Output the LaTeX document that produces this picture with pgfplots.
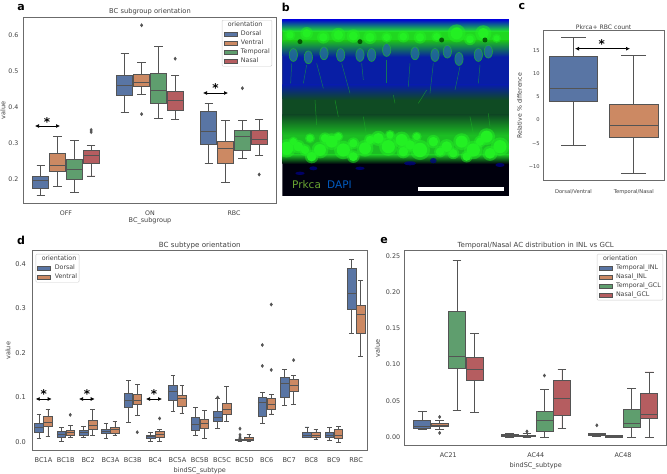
\documentclass[border=0pt]{standalone}
\usepackage{fontspec}
\setmainfont{DejaVu Sans}
\usepackage{pgfplots}
\pgfplotsset{compat=1.18}
\usepgfplotslibrary{statistics}
\usetikzlibrary{arrows.meta}
\definecolor{cD}{HTML}{5975A4}
\definecolor{cV}{HTML}{CC8963}
\definecolor{cT}{HTML}{5F9E6E}
\definecolor{cN}{HTML}{B55D60}
\definecolor{boxline}{gray}{0.33}
\definecolor{framec}{gray}{0.42}
\definecolor{txt}{gray}{0.25}
\definecolor{gbright}{RGB}{35,240,35}
\definecolor{gmid}{RGB}{28,190,35}
\definecolor{gdark}{RGB}{15,75,35}
\definecolor{bdeep}{RGB}{8,30,165}
\definecolor{soma}{RGB}{35,110,150}

% pos, colour, lower whisker, q1, median, q3, upper whisker, outliers
\newcommand{\bx}[8]{\addplot[forget plot,sharp corners,fill=#2,draw=boxline,line width=0.75pt,
  mark=diamond*,mark size=1.4pt,mark options={fill=boxline,draw=boxline,solid},
  boxplot prepared={draw position=#1,lower whisker=#3,lower quartile=#4,median=#5,
  upper quartile=#6,upper whisker=#7}] coordinates {#8};}

\pgfplotsset{panel/.style={
    scale only axis,
    axis line style={draw=framec,line width=1pt},
    major tick length=0pt,
    tick style={draw=none},
    tick label style={font=\fontsize{6.3}{7}\selectfont,text=txt},
    xticklabel style={yshift=-3pt},
    label style={font=\fontsize{6.5}{7.5}\selectfont,text=txt},
    title style={font=\fontsize{6.7}{7.5}\selectfont,text=txt,yshift=-7.5pt},
    /pgf/number format/assume math mode=true,
    boxplot/draw direction=y,
    legend cell align=left,
    legend style={font=\fontsize{6.3}{7}\selectfont,text=txt,draw=black!20,rounded corners=1pt,
      inner sep=1.5pt,row sep=2pt,fill=white,
      /tikz/every odd column/.append style={column sep=3.5pt},
      nodes={inner sep=0.5pt,text height=4.7pt,text depth=1.3pt}},
    legend image code/.code={\draw[sharp corners,##1] (0pt,-2.3pt) rectangle (13pt,2.3pt);},
  },
  fixedy/.style 2 args={yticklabel style={xshift=-#2,/pgf/number format/fixed,/pgf/number format/fixed zerofill,/pgf/number format/precision=#1}},
}

\begin{document}
\begin{tikzpicture}[x=1pt,y=1pt]
\path[use as bounding box] (0,0) rectangle (667,474);

% ---------- panel a
\begin{axis}[panel,fixedy={1}{2pt},at={(24pt,270pt)},anchor=south west,width=252pt,height=187pt,
  xmin=-0.5,xmax=2.5,ymin=0.131,ymax=0.651,
  xtick={0,1,2},xticklabels={OFF,ON,RBC},ytick={0.2,0.3,0.4,0.5,0.6},
  title={BC subgroup orientation},xlabel={BC\_subgroup},ylabel={value},
  xlabel style={yshift=5pt},ylabel style={yshift=-4pt},
  boxplot={box extend=0.19,whisker extend=0.1},
  legend style={at={(1,1)},xshift=-4pt,yshift=-3pt,anchor=north east}]
\addlegendimage{empty legend}\addlegendentry{\hspace*{-13pt}orientation}
\addlegendimage{fill=cD,draw=boxline}\addlegendentry{Dorsal}
\addlegendimage{fill=cV,draw=boxline}\addlegendentry{Ventral}
\addlegendimage{fill=cT,draw=boxline}\addlegendentry{Temporal}
\addlegendimage{fill=cN,draw=boxline}\addlegendentry{Nasal}
\bx{-0.3}{cD}{.156}{.174}{.197}{.208}{.239}{}
\bx{-0.1}{cV}{.181}{.222}{.239}{.271}{.319}{}
\bx{0.1}{cT}{.164}{.200}{.228}{.256}{.307}{}
\bx{0.3}{cN}{.209}{.244}{.265}{.280}{.294}{(0,.337)(0,.331)}
\bx{0.7}{cD}{.385}{.432}{.460}{.490}{.550}{}
\bx{0.9}{cV}{.436}{.458}{.469}{.491}{.525}{(0,.628)(0,.381)}
\bx{1.1}{cT}{.369}{.411}{.447}{.495}{.569}{}
\bx{1.3}{cN}{.367}{.392}{.420}{.444}{.489}{(0,.535)}
\bx{1.7}{cD}{.244}{.297}{.333}{.389}{.410}{}
\bx{1.9}{cV}{.191}{.244}{.286}{.306}{.363}{}
\bx{2.1}{cT}{.258}{.281}{.320}{.335}{.363}{(0,.453)}
\bx{2.3}{cN}{.267}{.296}{.310}{.335}{.367}{(0,.213)}
\end{axis}

% ---------- panel c
\begin{axis}[panel,at={(543.3pt,293.3pt)},anchor=south west,width=120.7pt,height=149.7pt,
  xmin=-0.5,xmax=1.5,ymin=-13.11,ymax=19.26,
  xtick={0,1},xticklabels={Dorsal/Ventral,Temporal/Nasal},
  ytick={-10,-5,0,5,10,15},yticklabels={−10,−5,0,5,10,15},
  tick label style={font=\fontsize{5.2}{6}\selectfont},
  xticklabel style={yshift=-2pt},
  label style={font=\fontsize{6.2}{7}\selectfont},
  title={Pkrca+ RBC count},ylabel={Relative \% difference},
  title style={font=\fontsize{6.1}{6.5}\selectfont,yshift=-1pt},
  ylabel style={yshift=0pt},
  boxplot={box extend=0.8,whisker extend=0.41}]
\bx{0}{cD}{-5.5}{4.1}{6.9}{13.8}{17.8}{}
\bx{1}{cV}{-11.6}{-3.7}{-1.2}{3.3}{13.9}{}
\end{axis}

% ---------- panel d
\begin{axis}[panel,fixedy={1}{3pt},at={(32.3pt,23pt)},anchor=south west,width=335pt,height=200.3pt,
  xmin=-0.5,xmax=14.5,ymin=-0.0202,ymax=0.4299,
  xtick={0,...,14},xticklabels={BC1A,BC1B,BC2,BC3A,BC3B,BC4,BC5A,BC5B,BC5C,BC5D,BC6,BC7,BC8,BC9,RBC},
  ytick={0,0.1,0.2,0.3,0.4},
  tick label style={font=\fontsize{6.6}{7}\selectfont},
  title style={font=\fontsize{7.1}{8}\selectfont},
  title={BC subtype orientation},xlabel={bindSC\_subtype},ylabel={value},
  xlabel style={yshift=2pt},ylabel style={yshift=-2pt},
  boxplot={box extend=0.39,whisker extend=0.2},
  legend style={at={(0,1)},xshift=3.4pt,yshift=-3.3pt,anchor=north west}]
\addlegendimage{empty legend}\addlegendentry{\hspace*{-13pt}orientation}
\addlegendimage{fill=cD,draw=boxline}\addlegendentry{Dorsal}
\addlegendimage{fill=cV,draw=boxline}\addlegendentry{Ventral}
\bx{-0.2}{cD}{.008}{.022}{.034}{.041}{.062}{}
\bx{0.2}{cV}{.012}{.036}{.044}{.058}{.073}{}
\bx{0.8}{cD}{.001}{.011}{.017}{.023}{.032}{}
\bx{1.2}{cV}{.011}{.016}{.022}{.027}{.038}{(0,.061)}
\bx{1.8}{cD}{.010}{.016}{.022}{.027}{.035}{}
\bx{2.2}{cV}{.014}{.028}{.038}{.048}{.073}{}
\bx{2.8}{cD}{.008}{.019}{.025}{.029}{.042}{}
\bx{3.2}{cV}{.015}{.019}{.028}{.034}{.046}{}
\bx{3.8}{cD}{.043}{.078}{.094}{.109}{.139}{}
\bx{4.2}{cV}{.059}{.085}{.094}{.108}{.130}{(0,.022)}
\bx{4.8}{cD}{.001}{.008}{.012}{.016}{.022}{}
\bx{5.2}{cV}{.001}{.010}{.017}{.023}{.028}{(0,.053)}
\bx{5.8}{cD}{.069}{.093}{.113}{.127}{.150}{}
\bx{6.2}{cV}{.064}{.080}{.099}{.104}{.127}{}
\bx{6.8}{cD}{.015}{.026}{.040}{.055}{.077}{}
\bx{7.2}{cV}{.008}{.031}{.041}{.050}{.071}{}
\bx{7.8}{cD}{.031}{.047}{.055}{.069}{.097}{(0,.100)}
\bx{8.2}{cV}{.046}{.061}{.073}{.087}{.124}{}
\bx{8.8}{cD}{.002}{.003}{.004}{.006}{.007}{(0,.030)(0,.016)(0,.011)(0,.008)}
\bx{9.2}{cV}{.001}{.003}{.007}{.011}{.018}{}
\bx{9.8}{cD}{.042}{.057}{.088}{.100}{.111}{(0,.218)(0,.171)}
\bx{10.2}{cV}{.063}{.074}{.085}{.098}{.107}{(0,.309)(0,.162)}
\bx{10.8}{cD}{.082}{.100}{.132}{.146}{.164}{}
\bx{11.2}{cV}{.085}{.114}{.128}{.140}{.149}{(0,.184)}
\bx{11.8}{cD}{.010}{.011}{.016}{.021}{.034}{}
\bx{12.2}{cV}{.006}{.011}{.016}{.022}{.028}{}
\bx{12.8}{cD}{.004}{.011}{.014}{.021}{.032}{}
\bx{13.2}{cV}{.000}{.008}{.015}{.028}{.035}{}
\bx{13.8}{cD}{.244}{.297}{.333}{.390}{.410}{}
\bx{14.2}{cV}{.193}{.244}{.287}{.307}{.363}{}
\end{axis}

% ---------- panel e
\begin{axis}[panel,fixedy={2}{1pt},at={(404.7pt,28pt)},anchor=south west,width=262pt,height=195pt,
  xmin=-0.5,xmax=2.5,ymin=-0.012,ymax=0.2565,
  xtick={0,1,2},xticklabels={AC21,AC44,AC48},ytick={0,0.05,0.1,0.15,0.2,0.25},
  tick label style={font=\fontsize{6.4}{7}\selectfont},
  title style={font=\fontsize{7}{8}\selectfont},
  title={Temporal/Nasal AC distribution in INL vs GCL},xlabel={bindSC\_subtype},ylabel={value},
  xlabel style={yshift=2pt},ylabel style={yshift=-1pt},
  boxplot={box extend=0.196,whisker extend=0.1},
  legend style={at={(1,1)},xshift=-3.7pt,yshift=-3pt,anchor=north east}]
\addlegendimage{empty legend}\addlegendentry{\hspace*{-13pt}orientation}
\addlegendimage{fill=cD,draw=boxline}\addlegendentry{Temporal\_INL}
\addlegendimage{fill=cV,draw=boxline}\addlegendentry{Nasal\_INL}
\addlegendimage{fill=cT,draw=boxline}\addlegendentry{Temporal\_GCL}
\addlegendimage{fill=cN,draw=boxline}\addlegendentry{Nasal\_GCL}
\bx{-0.3}{cD}{.011}{.012}{.015}{.023}{.036}{}
\bx{-0.1}{cV}{.011}{.015}{.017}{.019}{.023}{(0,.028)(0,.006)}
\bx{0.1}{cT}{.037}{.095}{.111}{.174}{.244}{}
\bx{0.3}{cN}{.034}{.078}{.094}{.110}{.143}{}
\bx{0.7}{cD}{.000}{.001}{.003}{.004}{.005}{}
\bx{0.9}{cV}{.000}{.001}{.002}{.003}{.005}{(0,.008)}
\bx{1.1}{cT}{.000}{.008}{.023}{.035}{.066}{(0,.085)}
\bx{1.3}{cN}{.012}{.030}{.054}{.079}{.093}{}
\bx{1.7}{cD}{.001}{.003}{.004}{.005}{.0055}{(0,.0165)}
\bx{1.9}{cV}{.000}{.0005}{.001}{.002}{.003}{}
\bx{2.1}{cT}{.000}{.014}{.019}{.038}{.067}{}
\bx{2.3}{cN}{.000}{.026}{.032}{.060}{.090}{}
\end{axis}

% ---------- panel b, the micrograph (not data), coordinates in 3x crop pixels
\begin{scope}[x=0.3333pt,y=-0.3333pt,xshift=270pt,yshift=474pt]
\begin{scope}
\clip (37,58) rectangle (717,588);
\fill[black!95!blue] (37,58) rectangle (717,588);
\shade[top color=blue!85!black,bottom color=gbright] (37,58) rectangle (717,95);
\fill[gbright!90!black] (37,95) rectangle (717,122);
\shade[top color=gbright!80!black,bottom color=bdeep] (37,122) rectangle (717,170);
\fill[bdeep] (37,170) rectangle (717,255);
\shade[top color=bdeep,bottom color=gdark] (37,255) rectangle (717,300);
\fill[gdark] (37,300) rectangle (717,345);
\shade[top color=gdark,bottom color=gmid] (37,345) rectangle (717,405);
\fill[gmid] (37,405) rectangle (717,465);
\shade[top color=gmid,bottom color=black!95!blue] (37,465) rectangle (717,492);
% top band patches
\foreach \x/\y/\r in {60/105/12,110/100/14,160/112/14,205/105/16,250/108/15,300/112/15,350/112/12,400/110/13,450/112/14,500/110/12,560/100/20,600/118/13,640/100/18,680/115/10}
  {\fill[gbright,opacity=0.5] (\x,\y) circle (\r*0.45pt);\fill[gbright] (\x,\y) circle (\r*0.3pt);}
\foreach \x/\y in {90/125,270/125,515/120,645/120}
  {\fill[black!75!green,opacity=0.8] (\x,\y) circle (2.5pt);}
% cell bodies
\foreach \x/\y in {70/165,115/172,162/160,212/165,270/165,305/165,350/150,435/160,495/165,532/155,567/177,625/165,655/155}
  {\fill[soma,draw=gmid,line width=0.5pt,opacity=0.85] (\x,\y) ellipse (4.2pt and 6.5pt);}
% dendrites
\foreach \a/\b/\c/\d in {65/190/62/250,110/195/100/250,140/190/160/265,215/190/240/280,275/190/280/240,350/180/350/250,420/190/415/260,490/190/480/280,570/200/555/270,630/195/625/250,135/300/140/375,195/300/205/350,280/350/290/410,370/285/375/310,470/270/445/310,600/350/610/400,655/340/660/380}
  {\draw[gmid,line width=0.5pt,opacity=0.55] (\a,\b) -- (\c,\d);}
% bottom band cells
\foreach \x/\y/\r in {50/445/22,85/440/16,125/470/16,150/450/20,185/425/20,220/450/22,250/430/14,285/445/20,325/415/18,355/440/22,395/420/20,450/450/24,490/425/16,530/440/18,575/425/20,610/450/22,650/410/20,690/440/22,400/455/16,250/470/15,590/470/14,120/415/12,440/410/12,660/460/18,165/415/14,205/410/12,300/420/14,360/405/12,420/435/16,510/455/14,550/460/14,630/425/14,70/425/12,105/450/14}
  {\fill[gbright,opacity=0.5] (\x,\y) circle (\r*0.42pt);\fill[gbright] (\x,\y) circle (\r*0.3pt);}
\foreach \x/\y/\w/\h in {130/505/12/6,270/505/14/5,420/490/18/6,490/482/10/8,690/495/14/6,90/520/14/5}
  {\fill[blue!55!black,opacity=0.7] (\x,\y) ellipse (\w*0.3333pt and \h*0.3333pt);}
\end{scope}
\fill[white] (443,561) rectangle (703,572);
\node[anchor=west,inner sep=0pt,font=\fontsize{10.5}{12}\selectfont,text={rgb,255:red,105;green,165;blue,50}] at (66,553) {Prkca};
\node[anchor=west,inner sep=0pt,font=\fontsize{10.5}{12}\selectfont,text={rgb,255:red,0;green,90;blue,190}] at (171,553) {DAPI};
\end{scope}

% ---------- panel letters, arrows and stars, in reference pixels
\begin{scope}[x=1pt,y=-1pt,yshift=474pt]
\foreach \t/\x/\y in {a/21/8,b/285.7/7,c/522/7,d/21/240,e/384/240}
  {\node[font=\bfseries\fontsize{11}{12}\selectfont] at (\x,\y) {\t};}
\foreach \a/\b/\y in {35/60/126,203/228/93,575/630/48.7,35.7/51.7/399,79/94.7/399,146/162/399}
  {\draw[{Latex[length=4pt,width=4pt]}-{Latex[length=4pt,width=4pt]},line width=0.7pt] (\a,\y) -- (\b,\y);}
\foreach \x/\y in {47/122,215.6/88,601.7/44,43.7/394,87/394,154/394}
  {\node[font=\bfseries\fontsize{12}{14}\selectfont,inner sep=0pt] at (\x,\y) {*};}
\end{scope}
\end{tikzpicture}
\end{document}
